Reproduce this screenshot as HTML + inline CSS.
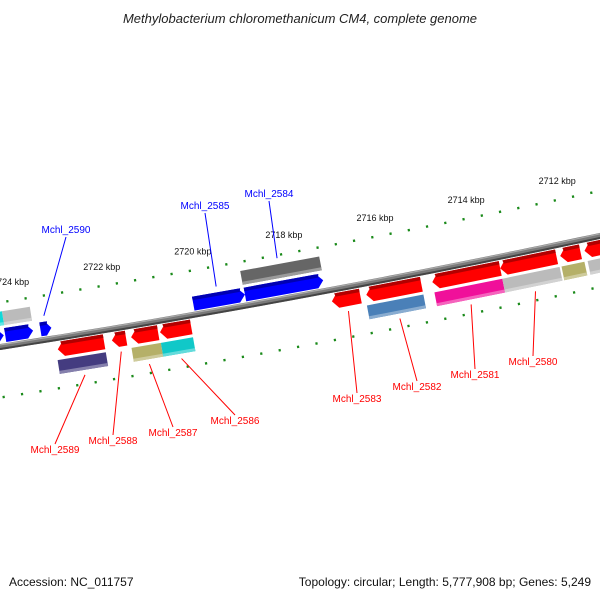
<!DOCTYPE html>
<html><head><meta charset="utf-8">
<style>
body{margin:0;background:#fff}
svg{display:block;font-family:"Liberation Sans","DejaVu Sans",sans-serif}
</style></head>
<body>
<svg id="chart" width="600" height="600" viewBox="0 0 600 600">
<text x="300" y="23" text-anchor="middle" font-size="13" font-style="italic" fill="#222">Methylobacterium chloromethanicum CM4, complete genome</text>
<g id="ticks"></g>
<g id="backbone"></g>
<g id="genes"></g>
<g id="labels"></g>
<text x="9" y="586" font-size="12" fill="#111">Accession: NC_011757</text>
<text x="591" y="586" font-size="12" fill="#111" text-anchor="end">Topology: circular; Length: 5,777,908 bp; Genes: 5,249</text>
</svg>
<script>
// gene data: start kbp, end kbp, strand row, colour, arrow direction
const geneStarts = [2723.29,2722.11,2721.69,2721.06,2717.31,2716.56,2715.12,2713.64,2712.33,2711.80,
  2723.33,2721.72,2721.08,2716.59,2715.12,2713.64,2712.35,2711.78,
  2720.25,2719.12,2724.36,2723.59,2724.90,
  2719.13,2724.35,2724.70];
const geneEnds = [2722.28,2721.80,2721.10,2720.38,2716.69,2715.36,2713.64,2712.41,2711.89,2711.10,
  2722.28,2721.08,2720.38,2715.36,2713.64,2712.39,2711.85,2711.10,
  2719.12,2717.41,2723.75,2723.35,2724.39,
  2717.40,2723.74,2724.35];
const geneRows = [1,1,1,1,1,1,1,1,1,1, 2,2,2,2,2,2,2,2, -1,-1,-1,-1,-1, -2,-2,-2];
const geneColors = ["red","red","red","red","red","red","red","red","red","red",
  "#443c80","#b5b068","#10c8c8","#4a80b8","#f0109a","#bbbbbb","#b5b068","#bbbbbb",
  "blue","blue","blue","blue","blue",
  "#666666","#bbbbbb","#10d8d8"];
const geneArrows = [-1,-1,-1,-1,-1,-1,-1,-1,-1,-1, 0,0,0,0,0,0,0,0, 1,1,1,1,1, 0,0,0];
const majorTicks = [2724,2722,2720,2718,2716,2714,2712];
const tickLabels = ["2724 kbp","2722 kbp","2720 kbp","2718 kbp","2716 kbp","2714 kbp","2712 kbp"];
const labelNames = ["Mchl_2590","Mchl_2585","Mchl_2584","Mchl_2589","Mchl_2588","Mchl_2587","Mchl_2586","Mchl_2583","Mchl_2582","Mchl_2581","Mchl_2580"];
const labelGenePos = [2723.47,2719.7,2718.3,2722.8,2721.95,2721.4,2720.7,2717.0,2715.95,2714.4,2713.0];
const labelRows = [-1,-1,-2,2,1,2,2,1,2,2,2];
const labelXs = [66,205,269,55,113,173,235,357,417,475,533];
const labelYs = [233,209,197,453,444,436,424,402,390,378,365];

const NS="http://www.w3.org/2000/svg";
function el(t,a,p){const e=document.createElementNS(NS,t);for(const k in a)e.setAttribute(k,a[k]);p.appendChild(e);return e;}
function baseY(u){return 347-0.157*u-0.000047*u*u;}
function pt(u,d){const s=-0.157-2*0.000047*u;const n=Math.sqrt(1+s*s);return [u+(-s/n)*d, baseY(u)+(1/n)*d];}
function X(pos){return 115+(2722-pos)*45.8;}
const rowD={1:[4,19],2:[22,36],"-1":[-18,-4],"-2":[-35,-21]};
function P(u,d){const p=pt(u,d);return p[0].toFixed(1)+","+p[1].toFixed(1);}

// backbone
const bb=document.getElementById('backbone');
function bbPath(d){let s="";for(let u=-20;u<=620;u+=10)s+=(s?"L":"M")+P(u,d);return s;}
let e=el('path',{d:bbPath(0),stroke:"#7a7a7a","stroke-width":6,fill:"none"},bb);

e=el('path',{d:bbPath(2),stroke:"#444","stroke-width":2,fill:"none"},bb);

e=el('path',{d:bbPath(-2),stroke:"#aaa","stroke-width":1.2,fill:"none"},bb);


// ticks
const tg=document.getElementById('ticks');
for(let k=0;k<=35;k++){
  const pos=2725-k*0.4;const u=X(pos);
  const major=Math.abs(pos-Math.round(pos))<0.01&&Math.round(pos)%2===0;
  [[-44,1],[50,1]].forEach(([c])=>{
    const h=major?4.5:1.2;
    const a=pt(u,c-h),b=pt(u,c+h);
    const t=el('line',{x1:a[0],y1:a[1],x2:b[0],y2:b[1],stroke:"#1a8a1a","stroke-width":major?2:2.2},tg);
    
    
  });
}
majorTicks.forEach((m,i)=>{
  const p=pt(X(m),-62);
  const t=el('text',{x:p[0]-3,y:p[1]+3,"font-size":9,"text-anchor":"middle",fill:"#111"},tg);
  t.textContent=tickLabels[i];
  
  
});

// genes
const gg=document.getElementById('genes');
function shade(c,f){const d=document.createElement('canvas').getContext('2d');d.fillStyle=c;const h=d.fillStyle;let r=parseInt(h.substr(1,2),16),g=parseInt(h.substr(3,2),16),b=parseInt(h.substr(5,2),16);
 if(f<1){r*=f;g*=f;b*=f;}else{r+=(255-r)*(f-1);g+=(255-g)*(f-1);b+=(255-b)*(f-1);}return `rgb(${r|0},${g|0},${b|0})`;}
geneStarts.forEach((s,i)=>{
  let u1=X(s),u2=X(geneEnds[i]);if(u1>u2)[u1,u2]=[u2,u1];
  const [d1,d2]=rowD[geneRows[i]];const dm=(d1+d2)/2;const dir=geneArrows[i];const tip=Math.min(6,(u2-u1)*0.5);
  function poly(a,b){ // band between offsets a,b
    let pts;
    if(dir===1)pts=[P(u1,a),P(u2-tip,a),P(u2,dm),P(u2-tip,b),P(u1,b)];
    else if(dir===-1)pts=[P(u1+tip,a),P(u2,a),P(u2,b),P(u1+tip,b),P(u1,dm)];
    else pts=[P(u1,a),P(u2,a),P(u2,b),P(u1,b)];
    return pts.join(" ");
  }
  const g=el('g',{},gg);
  
  
  let q=el('polygon',{points:poly(d1,d2),fill:geneColors[i]},g);
  
  if(dir!==0){
    q=el('polygon',{points:[P(u1+(dir===-1?tip*0.6:0),d1),P(u2-(dir===1?tip*0.6:0),d1),P(u2-(dir===1?tip*0.75:0),d1+3.5),P(u1+(dir===-1?tip*0.75:0),d1+3.5)].join(" "),fill:shade(geneColors[i],0.7)},g);
  } else {
    q=el('polygon',{points:[P(u1,d2-3),P(u2,d2-3),P(u2,d2),P(u1,d2)].join(" "),fill:shade(geneColors[i],1.35)},g);
  }
  
});

// labels
const lg=document.getElementById('labels');
labelNames.forEach((n,i)=>{
  const r=labelRows[i];const d=rowD[r];const up=r<0;
  const p=pt(X(labelGenePos[i]),up?d[0]-6:d[1]+5);
  const col=up?"blue":"red";
  const lx=labelXs[i],ly=labelYs[i]+(up?4:-9);
  const l=el('line',{x1:lx,y1:ly,x2:p[0],y2:p[1],stroke:col,"stroke-width":1},lg);
  
  const t=el('text',{x:labelXs[i],y:labelYs[i],"font-size":10,fill:col,"text-anchor":"middle"},lg);
  t.textContent=n;
  
  
});
</script>
</body></html>
